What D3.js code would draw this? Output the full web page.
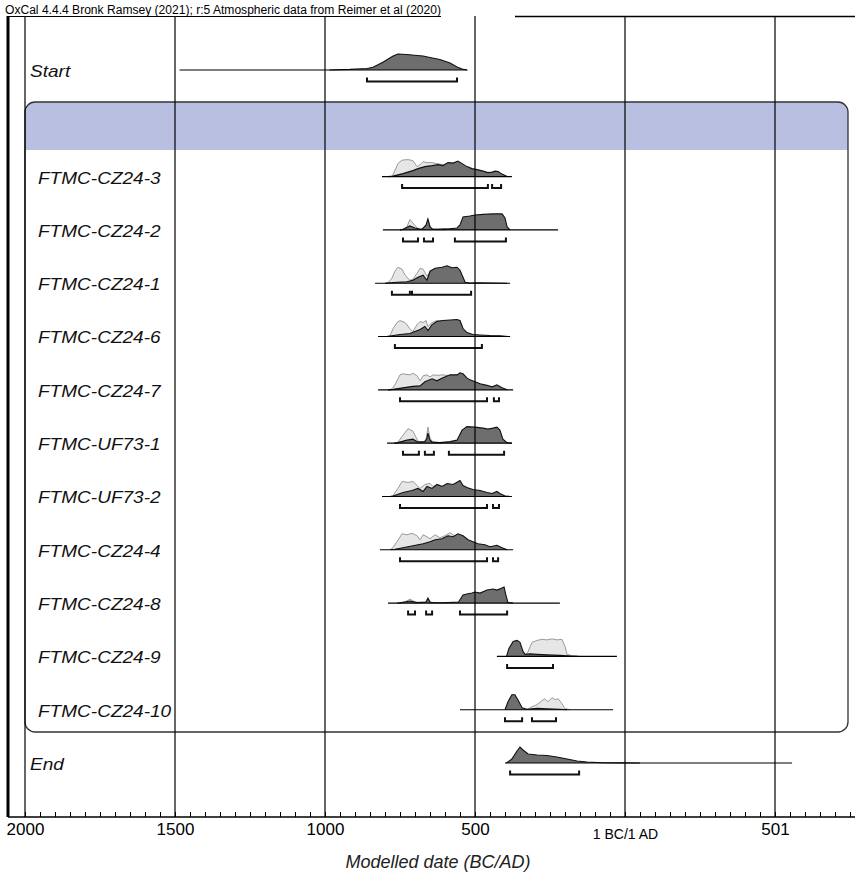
<!DOCTYPE html>
<html>
<head>
<meta charset="utf-8">
<script src="https://cdn.jsdelivr.net/npm/d3@7"></script>
<style>
  body { margin: 0; background: #fff; }
  svg { display: block; font-family: "Liberation Sans", Arial, sans-serif; }
</style>
</head>
<body>
<div class="oxcal"></div>
<script>
// ---- data (years: BC negative, 1 BC/1 AD = 0) ----
var rowNames = ["Start", "band", "FTMC-CZ24-3", "FTMC-CZ24-2", "FTMC-CZ24-1", "FTMC-CZ24-6",
  "FTMC-CZ24-7", "FTMC-UF73-1", "FTMC-UF73-2", "FTMC-CZ24-4", "FTMC-CZ24-8",
  "FTMC-CZ24-9", "FTMC-CZ24-10", "End"];

var tickYears = [-2000, -1500, -1000, -500, 0, 500];
var tickLabels = ["2000", "1500", "1000", "500", "1 BC/1 AD", "501"];

var startLine = [-1485, -525];
var startPost = [[-985,0],[-917,0.6],[-860,1.5],[-840,2.7],[-807,7.7],[-773,14],[-757,16],[-727,15.5],[-693,14.5],[-673,14],[-650,12.5],[-617,10.5],[-583,7],[-560,3],[-543,1],[-527,0]];
var startRange = [[-860,-560]];

var cz243Line = [-810,-377];
var cz243Like = [[-777,0],[-767,6],[-757,13],[-743,16.5],[-723,17],[-707,16],[-693,10],[-683,12],[-673,15],[-660,14],[-643,14],[-627,13],[-607,12],[-590,13],[-573,12.5],[-557,14],[-543,12],[-527,9],[-510,7],[-493,6],[-473,5],[-457,3.5],[-443,4],[-433,5],[-423,4.5],[-410,2],[-393,0]];
var cz243Post = [[-790,0],[-773,0.5],[-740,3],[-707,6],[-690,8],[-667,10],[-643,11],[-623,12],[-607,11],[-590,14],[-573,13.5],[-557,15.5],[-543,13],[-527,10],[-510,8],[-493,7],[-473,5.5],[-457,4],[-443,4.5],[-433,5.5],[-423,5],[-410,2.5],[-393,0]];
var cz243Range = [[-743,-457],[-443,-413]];

var cz242Line = [-807,-223];
var cz242Like = [[-750,0],[-743,0.5],[-727,3],[-717,10.5],[-707,7],[-693,2],[-683,1],[-665,2],[-657,11],[-647,1],[-627,0.5],[-600,0]];
var cz242Post = [[-750,0],[-740,0.5],[-717,4],[-700,2],[-677,0.5],[-663,5],[-657,11],[-650,3],[-640,0.5],[-593,1],[-560,2],[-550,5],[-540,13],[-517,14],[-500,15],[-473,15.5],[-440,16],[-410,16],[-400,12],[-393,3],[-383,0]];
var cz242Range = [[-740,-690],[-670,-640],[-567,-397]];

var cz241Line = [-833,-383];
var cz241Like = [[-795,0],[-790,0.5],[-777,5],[-767,12],[-757,16],[-743,14],[-733,8],[-717,3],[-707,4],[-693,10],[-683,15],[-673,14],[-660,7],[-650,11],[-633,14],[-610,15],[-593,16.5],[-577,15],[-560,15],[-550,12],[-540,5],[-533,1],[-517,0]];
var cz241Post = [[-800,0],[-793,0.3],[-760,1],[-727,1.5],[-707,3],[-690,6],[-673,8],[-660,3],[-650,12],[-633,15],[-610,16],[-593,17.5],[-577,15.5],[-560,16],[-550,13],[-540,6],[-533,1],[-517,0.3],[-493,0.5],[-440,0.3],[-393,0]];
var cz241Range = [[-777,-717],[-710,-513]];

var cz246Line = [-823,-383];
var cz246Like = [[-790,0],[-783,1],[-773,8],[-760,14],[-750,16],[-733,14],[-717,8],[-707,5],[-693,12],[-683,15],[-673,14],[-663,16],[-657,10],[-643,14],[-627,16],[-607,15.5],[-583,15.5],[-560,16],[-550,15],[-540,7],[-527,3],[-507,1.5],[-483,1],[-450,0.5],[-417,0.3],[-390,0]];
var cz246Post = [[-795,0],[-783,0.5],[-750,2],[-717,3],[-700,5],[-683,7],[-667,10],[-657,6],[-643,12],[-627,15],[-607,16],[-583,16.5],[-560,17],[-550,16],[-540,8],[-527,4],[-507,2],[-483,1.5],[-450,1],[-417,0.8],[-390,0]];
var cz246Range = [[-767,-477]];

var cz247Line = [-823,-373];
var cz247Like = [[-785,0],[-777,1],[-767,5],[-750,15],[-740,16],[-717,15],[-707,16.5],[-693,14],[-683,9],[-673,14],[-660,15],[-650,13],[-640,15],[-627,14.5],[-610,15],[-593,14.5],[-583,14],[-560,14],[-550,16],[-540,15],[-527,11],[-517,9],[-500,7],[-483,5],[-460,4],[-443,2.5],[-427,4.5],[-410,1.5],[-393,0]];
var cz247Post = [[-790,0],[-773,0.5],[-740,2],[-707,3.5],[-683,4],[-667,8],[-643,11],[-627,9],[-607,12],[-583,15],[-560,15],[-550,17],[-540,16],[-527,12],[-517,10],[-500,8],[-483,6],[-460,4.5],[-443,3],[-427,5],[-410,2],[-393,0]];
var cz247Range = [[-750,-460],[-437,-420]];

var uf731Line = [-793,-377];
var uf731Like = [[-765,0],[-757,1],[-740,8],[-723,14.5],[-707,12],[-690,2],[-673,1],[-663,3],[-657,16],[-650,5],[-643,2],[-630,0.5],[-610,0]];
var uf731Post = [[-770,0],[-760,0.3],[-727,3],[-707,4],[-690,1],[-667,1.5],[-660,5],[-657,10],[-650,3],[-643,1],[-617,0.5],[-583,1.5],[-560,3],[-543,13],[-527,16.5],[-500,16],[-473,15],[-457,14],[-440,15],[-427,16],[-417,13],[-407,4],[-393,0.5],[-377,0]];
var uf731Range = [[-740,-687],[-667,-637],[-587,-403]];

var uf732Line = [-810,-377];
var uf732Like = [[-780,0],[-773,1],[-757,8],[-743,15],[-723,14],[-707,15],[-693,11],[-683,8],[-667,12],[-650,13],[-640,10],[-623,12],[-610,10],[-593,12],[-573,11],[-550,15],[-540,10],[-527,8],[-507,6],[-483,5],[-460,3.5],[-443,2.5],[-427,4.5],[-417,2.5],[-400,0.5],[-383,0]];
var uf732Post = [[-785,0],[-773,0.5],[-740,4],[-710,6],[-690,8],[-673,5],[-660,10],[-643,8],[-627,12],[-610,10],[-593,13],[-573,12],[-550,16],[-540,11],[-527,9],[-507,7],[-483,6],[-460,4],[-443,3],[-427,5],[-417,3],[-400,0.5],[-383,0]];
var uf732Range = [[-750,-460],[-440,-420]];

var cz244Line = [-817,-373];
var cz244Like = [[-785,0],[-777,1],[-760,8],[-743,16],[-727,15],[-710,16.5],[-693,14],[-683,10],[-673,15],[-660,13],[-650,11],[-633,15],[-617,12],[-600,14],[-583,17],[-567,14],[-557,15],[-540,13],[-523,9],[-507,7],[-490,5],[-467,4],[-450,2.5],[-427,4],[-410,1.5],[-393,0]];
var cz244Post = [[-780,0],[-767,0.5],[-740,2],[-707,4],[-673,6],[-650,8],[-633,10],[-610,11],[-590,14],[-573,13],[-557,16],[-540,14],[-523,10],[-507,8],[-490,6],[-467,5],[-450,3],[-427,4.5],[-410,2],[-393,0]];
var cz244Range = [[-750,-460],[-440,-423]];

var cz248Line = [-790,-217];
var cz248Like = [[-755,0],[-733,1],[-717,4],[-700,1],[-683,0.5],[-663,1],[-657,5],[-647,1],[-630,0]];
var cz248Post = [[-760,0],[-750,0.3],[-717,2],[-693,0.5],[-663,1],[-657,5],[-650,0.5],[-607,0.3],[-555,1],[-540,8],[-527,9],[-510,10],[-500,11],[-483,10],[-460,13],[-440,14],[-427,13],[-410,15],[-403,16],[-397,8],[-390,0.5],[-373,0]];
var cz248Range = [[-723,-700],[-663,-643],[-550,-393]];

var cz249Line = [-427,-27];
var cz249Like = [[-340,0],[-333,0.5],[-323,5],[-310,14],[-293,16],[-277,17],[-260,16.5],[-243,17.5],[-227,16.5],[-210,17],[-200,10],[-193,2],[-173,0.5],[-150,0]];
var cz249Post = [[-395,0],[-387,8],[-373,15],[-360,16],[-350,14],[-340,5],[-333,2],[-317,2.5],[-293,2],[-260,1.5],[-217,1],[-183,0.3],[-160,0]];
var cz249Range = [[-393,-240]];

var cz2410Line = [-550,-40];
var cz2410Like = [[-330,0],[-323,0.5],[-310,3],[-293,5],[-277,9],[-267,11],[-257,8],[-243,12],[-233,10],[-223,11],[-210,6],[-200,1],[-183,0]];
var cz2410Post = [[-400,0],[-390,8],[-377,15],[-367,15],[-357,10],[-343,2],[-327,0.5],[-293,1.5],[-260,1],[-217,0.5],[-193,0]];
var cz2410Range = [[-400,-343],[-310,-230]];

var endLine = [-400,557];
var endPost = [[-395,0],[-377,4],[-360,12],[-350,16],[-340,13],[-323,9],[-293,8],[-260,7.5],[-227,6],[-193,4],[-160,2],[-127,1],[-73,0.3],[-7,0.1],[50,0]];
var endRange = [[-383,-153]];

var rows = [
  {name: "Start", line: startLine, like: null, post: startPost, range: startRange},
  {name: "FTMC-CZ24-3", line: cz243Line, like: cz243Like, post: cz243Post, range: cz243Range},
  {name: "FTMC-CZ24-2", line: cz242Line, like: cz242Like, post: cz242Post, range: cz242Range},
  {name: "FTMC-CZ24-1", line: cz241Line, like: cz241Like, post: cz241Post, range: cz241Range},
  {name: "FTMC-CZ24-6", line: cz246Line, like: cz246Like, post: cz246Post, range: cz246Range},
  {name: "FTMC-CZ24-7", line: cz247Line, like: cz247Like, post: cz247Post, range: cz247Range},
  {name: "FTMC-UF73-1", line: uf731Line, like: uf731Like, post: uf731Post, range: uf731Range},
  {name: "FTMC-UF73-2", line: uf732Line, like: uf732Like, post: uf732Post, range: uf732Range},
  {name: "FTMC-CZ24-4", line: cz244Line, like: cz244Like, post: cz244Post, range: cz244Range},
  {name: "FTMC-CZ24-8", line: cz248Line, like: cz248Like, post: cz248Post, range: cz248Range},
  {name: "FTMC-CZ24-9", line: cz249Line, like: cz249Like, post: cz249Post, range: cz249Range},
  {name: "FTMC-CZ24-10", line: cz2410Line, like: cz2410Like, post: cz2410Post, range: cz2410Range},
  {name: "End", line: endLine, like: null, post: endPost, range: endRange}
];

// ---- layout ----
var width = 855, height = 879;
var frame = {left: 8, right: 855, top: 16, axis: 817};
var box = {left: 25, right: 848, top: 102, bottom: 732, bandBottom: 150};

var svg = d3.select(".oxcal").append("svg").attr("width", width).attr("height", height);

var x = d3.scaleLinear().domain([-2000, 500]).range([25, 775]);
var y = d3.scalePoint().domain(rowNames).range([70, 763]);
var h = d3.scaleLinear().domain([0, 20]).range([0, 20]);

// title
svg.append("text")
  .attr("x", 5).attr("y", 14)
  .attr("font-size", "12px")
  .attr("textLength", 436).attr("lengthAdjust", "spacingAndGlyphs")
  .text("OxCal 4.4.4 Bronk Ramsey (2021); r:5 Atmospheric data from Reimer et al (2020)");

// frame top line (broken after title) and left thick line
svg.append("line").attr("x1", frame.left).attr("x2", 441).attr("y1", frame.top + 0.5).attr("y2", frame.top + 0.5)
  .attr("stroke", "#000").attr("stroke-width", 1);
svg.append("line").attr("x1", 515).attr("x2", frame.right).attr("y1", frame.top + 0.5).attr("y2", frame.top + 0.5)
  .attr("stroke", "#000").attr("stroke-width", 1.5);
svg.append("line").attr("x1", frame.left).attr("x2", frame.left).attr("y1", frame.top).attr("y2", frame.axis)
  .attr("stroke", "#000").attr("stroke-width", 3);

// group box with blue header band
svg.append("clipPath").attr("id", "boxclip").append("rect")
  .attr("x", box.left).attr("y", box.top).attr("width", box.right - box.left).attr("height", box.bottom - box.top)
  .attr("rx", 10).attr("ry", 10);
svg.append("rect")
  .attr("clip-path", "url(#boxclip)")
  .attr("x", box.left).attr("y", box.top).attr("width", box.right - box.left).attr("height", box.bandBottom - box.top)
  .attr("fill", "#b8bfe1");
svg.append("rect")
  .attr("x", box.left).attr("y", box.top).attr("width", box.right - box.left).attr("height", box.bottom - box.top)
  .attr("rx", 10).attr("ry", 10)
  .attr("fill", "none").attr("stroke", "#333").attr("stroke-width", 1.3);

// distributions: filled area + outline on top edge only
var area = d3.area()
  .x(function(d){ return x(d[0]); })
  .y0(0)
  .y1(function(d){ return -h(d[1]); });
var edge = d3.line()
  .x(function(d){ return x(d[0]); })
  .y(function(d){ return -h(d[1]); });

var rowG = svg.selectAll("g.row").data(rows).enter().append("g")
  .attr("class", "row")
  .attr("transform", function(d){ return "translate(0," + y(d.name) + ")"; });

var likeG = rowG.filter(function(d){ return d.like; });
likeG.append("path")
  .attr("d", function(d){ return area(d.like); })
  .attr("fill", "#e6e6e6");
likeG.append("path")
  .attr("d", function(d){ return edge(d.like); })
  .attr("fill", "none").attr("stroke", "#9a9a9a").attr("stroke-width", 1);

rowG.append("path")
  .attr("d", function(d){ return area(d.post); })
  .attr("fill", "#6e6e6e");
rowG.append("path")
  .attr("d", function(d){ return edge(d.post); })
  .attr("fill", "none").attr("stroke", "#111").attr("stroke-width", 1.1);

rowG.append("line")
  .attr("x1", function(d){ return x(d.line[0]); })
  .attr("x2", function(d){ return x(d.line[1]); })
  .attr("stroke", "#000").attr("stroke-width", 1.1);

// hpd range brackets
rowG.selectAll("path.range").data(function(d){ return d.range; }).enter().append("path")
  .attr("class", "range")
  .attr("d", function(r){
    var a = x(r[0]), b = x(r[1]);
    return "M" + a + ",7.5V11.5H" + b + "V7.5";
  })
  .attr("fill", "none").attr("stroke", "#111").attr("stroke-width", 2);

// row labels
rowG.append("text")
  .attr("transform", function(d){
    var lx = (d.name === "Start" || d.name === "End") ? 30 : 38;
    return "translate(" + lx + ",1) scale(1.12,1)";
  })
  .attr("dy", "0.35em")
  .attr("font-size", "17px")
  .attr("font-style", "italic")
  .attr("fill", "#111")
  .text(function(d){ return d.name; });

// vertical grid lines (drawn over everything)
svg.selectAll("line.grid").data(tickYears).enter().append("line")
  .attr("class", "grid")
  .attr("x1", function(d){ return x(d); }).attr("x2", function(d){ return x(d); })
  .attr("y1", frame.top).attr("y2", frame.axis)
  .attr("stroke", "#000").attr("stroke-width", 1.2);

// axis
svg.append("line").attr("x1", frame.left).attr("x2", frame.right)
  .attr("y1", frame.axis).attr("y2", frame.axis)
  .attr("stroke", "#000").attr("stroke-width", 1.5);

var minorAxis = d3.axisTop(x).tickValues(d3.range(-2000, 751, 50)).tickSize(5).tickFormat("");
svg.append("g").attr("transform", "translate(0," + frame.axis + ")").call(minorAxis)
  .call(function(g){ g.select(".domain").remove(); });

var labelAxis = d3.axisBottom(x).tickValues(tickYears).tickSize(0).tickPadding(5)
  .tickFormat(function(d, i){ return tickLabels[i]; });
var la = svg.append("g").attr("transform", "translate(0," + frame.axis + ")").call(labelAxis);
la.select(".domain").remove();
la.selectAll("text")
  .attr("font-family", "'Liberation Sans', Arial, sans-serif")
  .attr("fill", "#000")
  .attr("font-size", function(d){ return d === 0 ? "14px" : "17px"; })
  .attr("dy", function(d){ return d === 0 ? "1.2em" : "0.75em"; });

// axis title
svg.append("text")
  .attr("x", 438).attr("y", 868)
  .attr("text-anchor", "middle")
  .attr("font-size", "18px")
  .attr("font-style", "italic")
  .attr("fill", "#222")
  .text("Modelled date (BC/AD)");
</script>
</body>
</html>
